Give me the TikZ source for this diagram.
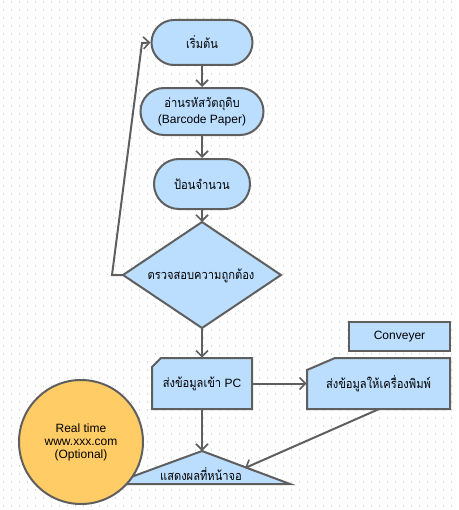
\documentclass[tikz,border=0pt]{standalone}
\usepackage{fontspec}
\setmainfont{Liberation Sans}
\newfontfamily\thaifam[Script=Thai,FakeStretch=0.88]{Loma}
\newcommand\thai{\thaifam\fontsize{9.5}{11.5}\selectfont}
\usetikzlibrary{shapes.geometric,shapes.misc,arrows.meta}
\definecolor{boxblue}{RGB}{187,222,255}
\definecolor{edgegray}{RGB}{95,95,95}
\definecolor{orangefill}{RGB}{255,204,102}
\definecolor{griddot}{RGB}{220,220,220}
\begin{document}
\begin{tikzpicture}[x=0.75pt,y=-0.75pt,
  shapebox/.style={draw=edgegray, line width=1.5pt, fill=boxblue, font=\fontsize{9}{11.5}\selectfont, align=center, inner sep=0pt},
  textbox/.style={font=\fontsize{9}{11.5}\selectfont, align=center, inner sep=0pt},
  outline/.style={draw=edgegray, line width=1.5pt, fill=boxblue, line join=miter},
  link/.style={draw=edgegray, line width=1.5pt, -{Straight Barb[length=4.5pt,width=9pt,line width=1.2pt]}},
]
\useasboundingbox (0,0) rectangle (459,510);
\foreach \x in {3,11,...,459}{\foreach \y in {1,9,...,509}{\fill[griddot] (\x,\y) rectangle ++(1,2);}}

% terminals
\node[shapebox, rounded rectangle, minimum width=75.75pt, minimum height=33.75pt] (start) at (202,42.5) {\thai เริ่มต้น};
\node[shapebox, rounded rectangle, minimum width=92.25pt, minimum height=35.25pt] (read) at (202,111.5) {{\thai อ่านรหัสวัตถุดิบ}\\(Barcode Paper)};
\node[shapebox, rounded rectangle, minimum width=72pt, minimum height=37.5pt] (qty) at (202,184) {\thai ป้อนจำนวน};

% decision
\node[shapebox, diamond, aspect=1.49, minimum width=118.5pt, minimum height=79.5pt, outer sep=0pt] (chk) at (202,275) {};
\node[textbox] (chktext) at (201,276) {\thai ตรวจสอบความถูกต้อง};

% manual input boxes
\path[outline] (152,409) -- (152,367) -- (161,358) -- (252,358) -- (252,409) -- cycle;
\node[textbox, minimum width=75pt, minimum height=38.25pt] (pc) at (202,383.5) {{\thai ส่งข้อมูลเข้า} PC};
\path[outline] (307,409) -- (307,370) -- (335,358) -- (450,358) -- (450,409) -- cycle;
\node[textbox, minimum width=107.25pt, minimum height=38.25pt] (prn) at (378.5,383.5) {\thai ส่งข้อมูลให้เครื่องพิมพ์};

% conveyer
\node[shapebox, rectangle, minimum width=75.75pt, minimum height=21.75pt] (conv) at (399.5,336.5) {Conveyer};

% display triangle
\path[outline] (202,451) -- (290,484) -- (112,484) -- cycle;
\node[textbox] (disp) at (201,474) {\thai แสดงผลที่หน้าจอ};
\coordinate (dispTop) at (202,451);
\coordinate (dispRight) at (245,468);

% connectors
\draw[link] (start.south) -- (read.north);
\draw[link] (read.south) -- (qty.north);
\draw[link] (qty.south) -- (chk.north);
\draw[link] (chk.south) -- (pc.north);
\draw[link] (pc.east) -- (prn.west);
\draw[link] (pc.south) -- (dispTop);
\draw[link] (prn.south) -- (dispRight);
\coordinate (loopA) at (112,275);
\coordinate (loopB) at (142,43);
\draw[link, line join=miter] (chk.west) -- (loopA) -- (loopB) -- (start.west);

% optional circle
\node[circle, draw=edgegray, line width=1.5pt, fill=orangefill, minimum size=93pt, inner sep=0pt, font=\fontsize{9}{9.75}\selectfont, align=center] (rt) at (81,442) {Real time\\www.xxx.com\\(Optional)};
\end{tikzpicture}
\end{document}
